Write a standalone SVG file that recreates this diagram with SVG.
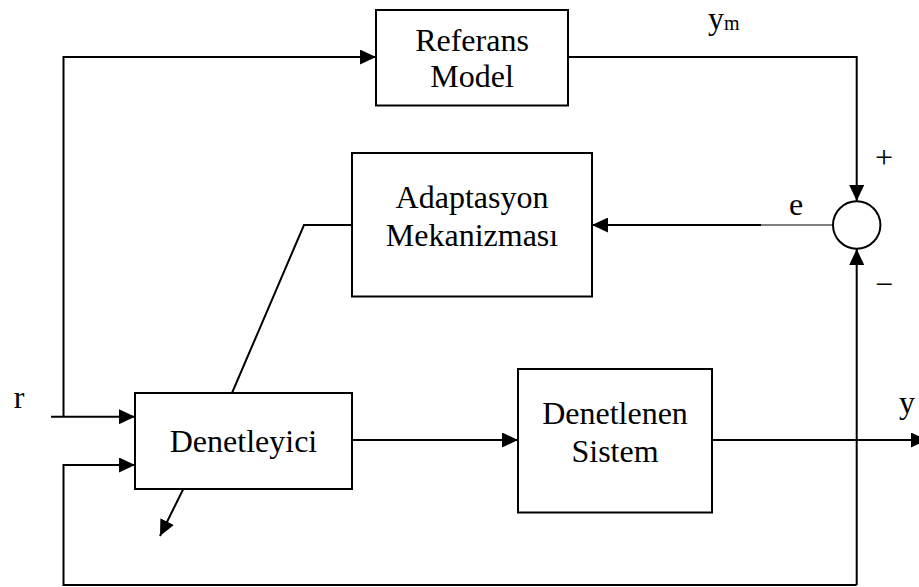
<svg xmlns="http://www.w3.org/2000/svg" width="919" height="587" viewBox="0 0 919 587">
  <style>
    .box { fill: #ffffff; stroke: #000000; stroke-width: 2; }
    .wire { fill: none; stroke: #000000; stroke-width: 2; }
    .thin { fill: none; stroke: #000000; stroke-width: 1.2; }
    text { font-family: 'Liberation Serif', 'Times New Roman', 'DejaVu Serif', serif; fill: #000000; }
    .lbl { font-size: 32px; text-anchor: middle; }
    .sub { font-size: 20px; }
  </style>
  <defs>
    <marker id="arrow" markerUnits="userSpaceOnUse" markerWidth="16" markerHeight="15" refX="16" refY="7.5" orient="auto">
      <path d="M0,0 L16,7.5 L0,15 Z" fill="#000000"/>
    </marker>
  </defs>

  <!-- connectors -->
  <g id="connectors">
    <!-- reference input r -->
    <path class="wire" d="M51,416.7 H135" marker-end="url(#arrow)"/>
    <path class="wire" d="M63.5,416.7 V57 H376" marker-end="url(#arrow)"/>
    <!-- model output ym to summing junction -->
    <path class="wire" d="M568,57 H856.7 V201" marker-end="url(#arrow)"/>
    <!-- error e to adaptation mechanism -->
    <path class="thin" d="M833,225 H760"/>
    <path class="wire" d="M761,225 H592" marker-end="url(#arrow)"/>
    <!-- adaptation to controller -->
    <path class="wire" d="M352,225 H304 L232,393"/>
    <path class="wire" d="M183.3,489 L160,536" marker-end="url(#arrow)"/>
    <!-- controller to plant -->
    <path class="wire" d="M352,440 H518" marker-end="url(#arrow)"/>
    <!-- plant output y -->
    <path class="wire" d="M712,440 H927" marker-end="url(#arrow)"/>
    <!-- feedback of y -->
    <path class="wire" d="M856.7,585 V249" marker-end="url(#arrow)"/>
    <path class="wire" d="M856.7,585 H63.5 V465 H135" marker-end="url(#arrow)"/>
  </g>

  <g id="referans-model">
    <rect class="box" x="376" y="10" width="192" height="95.5"/>
    <text class="lbl" x="472" y="50.7">Referans</text>
    <text class="lbl" x="472" y="87.3">Model</text>
  </g>

  <g id="adaptasyon-mekanizmasi">
    <rect class="box" x="352" y="153" width="240" height="143.5"/>
    <text class="lbl" x="472" y="208.3">Adaptasyon</text>
    <text class="lbl" x="472" y="246">Mekanizması</text>
  </g>

  <g id="denetleyici">
    <rect class="box" x="135" y="393" width="217" height="96"/>
    <text class="lbl" x="243.5" y="451.7">Denetleyici</text>
  </g>

  <g id="denetlenen-sistem">
    <rect class="box" x="518" y="369" width="194" height="143.5"/>
    <text class="lbl" x="615" y="424">Denetlenen</text>
    <text class="lbl" x="615" y="461.7">Sistem</text>
  </g>

  <g id="toplama">
    <circle cx="856.7" cy="225" r="23.7" fill="#ffffff" stroke="#000000" stroke-width="2"/>
  </g>

  <!-- signal labels -->
  <g id="labels">
    <text class="lbl" x="19" y="407.7">r</text>
    <text class="lbl" x="716" y="29">y</text>
    <text class="sub" x="724" y="30">m</text>
    <text class="lbl" x="796" y="215">e</text>
    <text class="lbl" x="884" y="168">+</text>
    <text class="lbl" x="884" y="295">−</text>
    <text class="lbl" x="907" y="413">y</text>
  </g>
</svg>
